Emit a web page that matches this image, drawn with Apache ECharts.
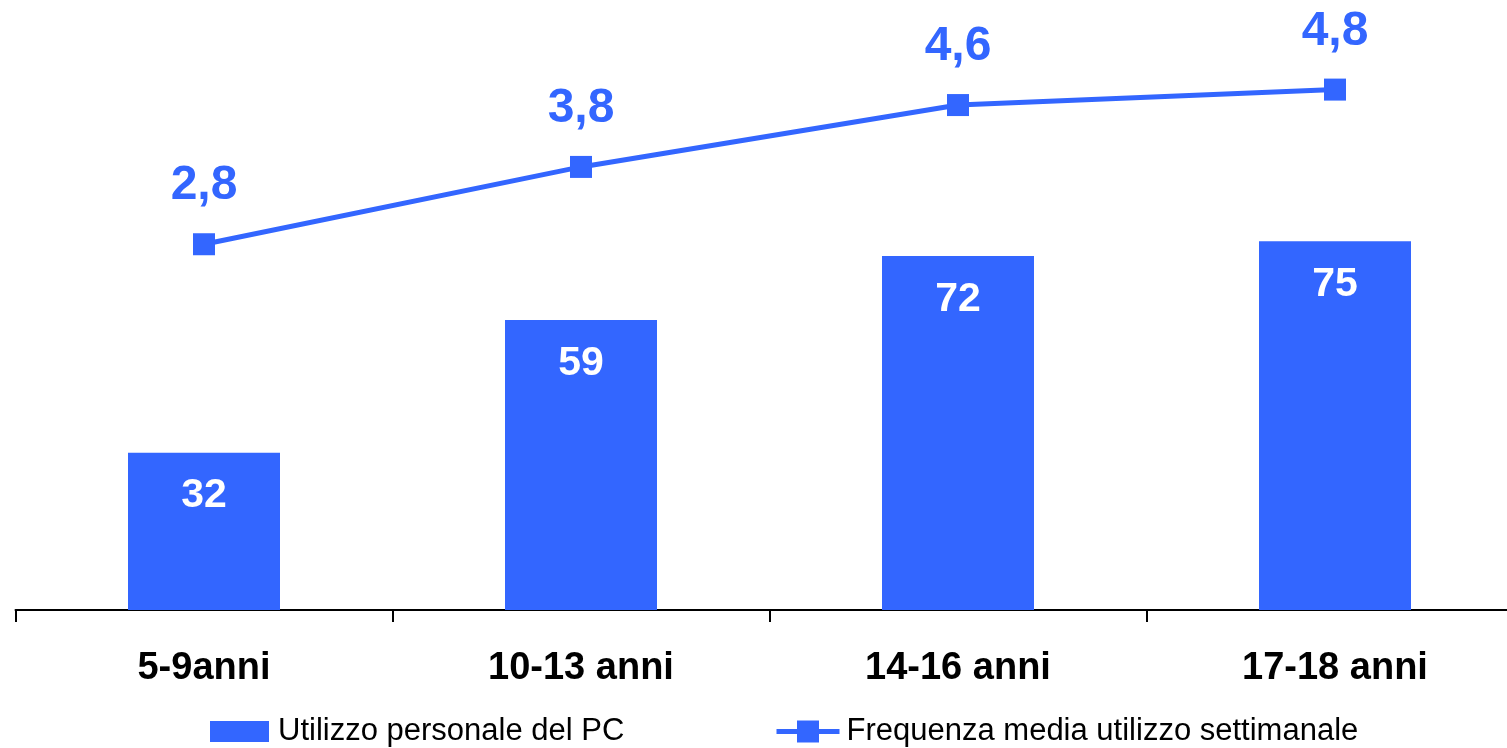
<!DOCTYPE html>
<html>
<head>
<meta charset="utf-8">
<script src="https://cdn.jsdelivr.net/npm/echarts@6/dist/echarts.min.js"></script>
<style>
html,body{margin:0;padding:0;background:#fff;}
#chart{width:1507px;height:748px;}
</style>
</head>
<body>
<div id="chart"></div>
<script>
const categories = ['5-9anni', '10-13 anni', '14-16 anni', '17-18 anni'];
const barName = 'Utilizzo personale del PC';
const lineName = 'Frequenza media utilizzo settimanale';
const barValues = [32, 59, 72, 75];
const lineValues = [2.8, 3.8, 4.6, 4.8];

const FONT = 'Arial, "Liberation Sans", sans-serif';
const BLUE = '#3366FF';

const chart = echarts.init(document.getElementById('chart'));
chart.setOption({
  animation: false,
  backgroundColor: '#fff',
  textStyle: { fontFamily: FONT },
  grid: { left: 15.5, right: -16.5, top: 20, bottom: 138, containLabel: false, outerBoundsMode: 'none' },
  legend: [
    {
      data: [{ name: barName, icon: 'rect' }],
      left: 210, top: 716, padding: 0,
      itemWidth: 59, itemHeight: 21,
      textStyle: { fontFamily: FONT, fontSize: 31, color: '#000', padding: [0, 0, 0, 4] },
      selectedMode: false
    },
    {
      data: [{ name: lineName }],
      left: 774, top: 716, padding: 0,
      itemWidth: 63, itemHeight: 27.5,
      lineStyle: { width: 5, color: BLUE },
      textStyle: { fontFamily: FONT, fontSize: 31, color: '#000', padding: [0, 0, 0, 2] },
      selectedMode: false
    }
  ],
  xAxis: {
    type: 'category',
    data: categories,
    boundaryGap: true,
    axisLine: { show: true, lineStyle: { color: '#000', width: 2 } },
    axisTick: { show: true, length: 12, lineStyle: { color: '#000', width: 2 } },
    axisLabel: { fontFamily: FONT, fontSize: 38, fontWeight: 'bold', color: '#000', margin: 40 },
    splitLine: { show: false }
  },
  yAxis: [
    { type: 'value', min: 0, max: 120, show: false, splitLine: { show: false } },
    { type: 'value', min: -1.93, max: 5.7, show: false, splitLine: { show: false } }
  ],
  series: [
    {
      name: barName,
      type: 'bar',
      data: barValues,
      barWidth: 152,
      itemStyle: { color: BLUE },
      label: {
        show: true, position: 'insideTop', distance: 23,
        fontFamily: FONT, fontSize: 41, fontWeight: 'bold', color: '#fff'
      }
    },
    {
      name: lineName,
      type: 'line',
      yAxisIndex: 1,
      data: lineValues,
      symbol: 'rect',
      symbolSize: 22,
      lineStyle: { color: BLUE, width: 5 },
      itemStyle: { color: BLUE },
      label: {
        show: true, position: 'top', distance: 23,
        fontFamily: FONT, fontSize: 48, fontWeight: 'bold', color: BLUE,
        formatter: p => p.value.toFixed(1).replace('.', ',')
      }
    }
  ]
});
</script>
</body>
</html>
